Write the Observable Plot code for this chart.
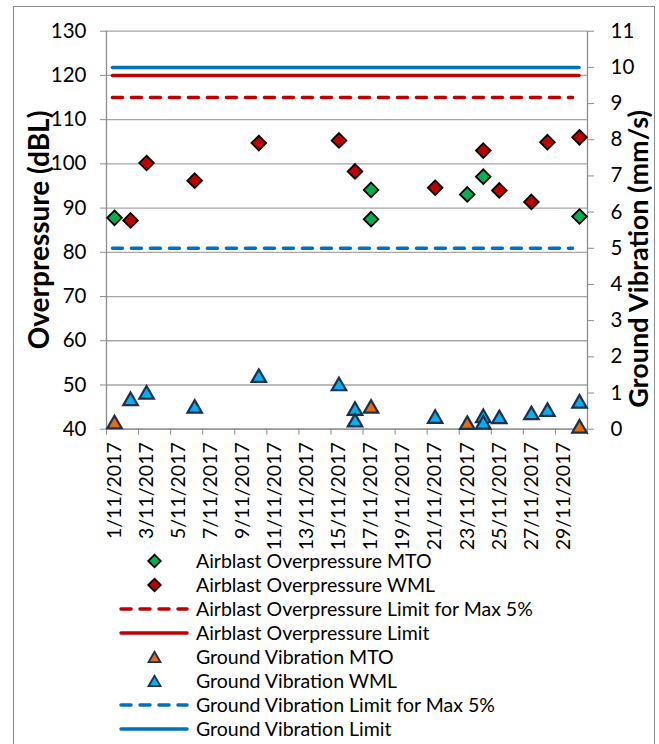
<!DOCTYPE html>
<html><head><meta charset="utf-8">
<script src="https://cdn.jsdelivr.net/npm/d3@7"></script>
<script src="https://cdn.jsdelivr.net/npm/@observablehq/plot@0.6"></script>
<style>
body{margin:0;background:#fff;font-family:Lato,sans-serif;}
#wrap{position:relative;width:659px;height:744px;overflow:hidden;background:#fff;}
#border{position:absolute;left:13px;top:6px;width:642px;height:800px;border:1px solid #8c8c8c;box-sizing:border-box;}
#chart{position:absolute;left:0;top:0;}
#legend{position:absolute;left:0;top:549px;width:659px;}
.row{position:relative;height:24px;}
.row svg{position:absolute;left:117px;top:0;}
.row span{position:absolute;left:196px;top:0;line-height:24px;font-size:19.5px;color:#000;white-space:nowrap;}
.ytitle{position:absolute;transform:translate(-50%,-50%) rotate(-90deg);white-space:nowrap;font-weight:bold;color:#000;line-height:1;}
</style></head>
<body><div id="wrap"><div id="border"></div><div id="chart"></div><div id="legend"></div>
<div class="ytitle" id="ytl" style="left:38px;top:230px;font-size:28px;"></div>
<div class="ytitle" id="ytr" style="left:637px;top:259px;font-size:27px;"></div>
</div>
<script>
// ---- data (day of November 2017) ----
const apMtoDays   = [1, 17, 17, 23, 24, 30];
const apMtoValues = [87.8, 94.1, 87.5, 93.1, 97.1, 88.1];           // dBL
const apWmlDays   = [2, 3, 6, 10, 15, 16, 21, 24, 25, 27, 28, 30];
const apWmlValues = [87.2, 100.2, 96.2, 104.7, 105.3, 98.3, 94.6, 103.0, 94.0, 91.4, 104.9, 106.0];
const gvMtoDays   = [1, 17, 23, 30];
const gvMtoValues = [0.2, 0.63, 0.18, 0.08];                          // mm/s
const gvWmlDays   = [2, 3, 6, 10, 15, 16, 16, 21, 24, 24, 25, 27, 28, 30];
const gvWmlValues = [0.84, 1.02, 0.63, 1.48, 1.25, 0.57, 0.25, 0.35, 0.37, 0.19, 0.34, 0.45, 0.54, 0.77];
const apLimit5 = 115, apLimit = 120;     // dBL
const gvLimit5 = 5, gvLimit = 10;        // mm/s
const limitDays = [1, 30];
const dateTicks  = [1, 3, 5, 7, 9, 11, 13, 15, 17, 19, 21, 23, 25, 27, 29];
const dateLabels = ["1/11/2017","3/11/2017","5/11/2017","7/11/2017","9/11/2017","11/11/2017","13/11/2017","15/11/2017","17/11/2017","19/11/2017","21/11/2017","23/11/2017","25/11/2017","27/11/2017","29/11/2017"];
const dayBoundaries = [0.5, 2.5, 4.5, 6.5, 8.5, 10.5, 12.5, 14.5, 16.5, 18.5, 20.5, 22.5, 24.5, 26.5, 28.5, 30.5];
const apTicks = [40, 50, 60, 70, 80, 90, 100, 110, 120, 130];
const gvTicks = [0, 1, 2, 3, 4, 5, 6, 7, 8, 9, 10, 11];
const leftTitle = "Overpressure (dBL)";
const rightTitle = "Ground Vibration (mm/s)";
const seriesNames = ["Airblast Overpressure MTO","Airblast Overpressure WML","Airblast Overpressure Limit for Max 5%","Airblast Overpressure Limit","Ground Vibration MTO","Ground Vibration WML","Ground Vibration Limit for Max 5%","Ground Vibration Limit"];

// secondary axis (mm/s) mapped onto primary (dBL) range
const apMin = 40, apMax = 130, gvMin = 0, gvMax = 11;
const gvToAp = v => apMin + (v - gvMin) * (apMax - apMin) / (gvMax - gvMin);
const apToGv = a => gvMin + (a - apMin) * (gvMax - gvMin) / (apMax - apMin);

const zip = (d, v) => d.map((x, i) => ({day: x, value: v[i]}));
const apMto = zip(apMtoDays, apMtoValues), apWml = zip(apWmlDays, apWmlValues);
const gvMto = zip(gvMtoDays, gvMtoValues), gvWml = zip(gvWmlDays, gvWmlValues);

const RED = "#C00000", BLUE = "#0070C0", GREEN = "#00B050", ORANGE = "#E46C0A", LBLUE = "#00B0F0", NAVY = "#1B2F4E", AXIS = "#8c8c8c";

const tri = {draw(ctx, size){ const s = Math.sqrt(size); const w = s*0.6, h = s*0.52; ctx.moveTo(0,-h); ctx.lineTo(w,h); ctx.lineTo(-w,h); ctx.closePath(); }};

const H = 562;
const chart = Plot.plot({
  width: 659, height: H,
  marginLeft: 106, marginRight: 72, marginTop: 30.7, marginBottom: H - 428.7,
  x: {domain: [0.5, 30.5]},
  y: {domain: [apMin, apMax]},
  style: {fontFamily: "Lato", fontSize: "20.5px", color: "#000", background: "transparent", overflow: "visible"},
  marks: [
    Plot.gridY(apTicks, {stroke: "#a6a6a6", strokeOpacity: 1, strokeWidth: 1.3}),
    Plot.axisY(apTicks, {anchor: "left", tickSize: 6, tickPadding: 14, stroke: AXIS, label: null}),
    Plot.axisY(gvTicks.map(gvToAp), {anchor: "right", tickSize: 6, tickPadding: 17, stroke: AXIS, label: null,
      tickFormat: d => String(Math.round(apToGv(d)))}),
    Plot.axisX(dayBoundaries, {tickSize: 6, tickFormat: () => "", stroke: AXIS, label: null}),
    Plot.axisX(dateTicks, {tickSize: 0, tickPadding: 13, tickRotate: -90, label: null, fontSize: 19.5,
      tickFormat: d => dateLabels[dateTicks.indexOf(d)]}),
    Plot.ruleX([0.5, 30.5], {stroke: AXIS, strokeWidth: 1.3}),
    Plot.ruleY([apMin], {stroke: AXIS, strokeWidth: 1.3}),
    Plot.dot(apMto, {x: "day", y: "value", symbol: "diamond2", r: 6.6, fill: GREEN, stroke: "#000", strokeWidth: 1.8}),
    Plot.dot(apWml, {x: "day", y: "value", symbol: "diamond2", r: 6.6, fill: RED, stroke: "#000", strokeWidth: 1.8}),
    Plot.ruleY([apLimit5], {x1: limitDays[0] - 0.1, x2: limitDays[1] - 0.4, stroke: RED, strokeWidth: 3.5, strokeDasharray: "10,9", strokeLinecap: "round"}),
    Plot.ruleY([apLimit], {x1: limitDays[0] - 0.1, x2: limitDays[1], stroke: RED, strokeWidth: 3.5, strokeLinecap: "round"}),
    Plot.dot(gvMto, {x: "day", y: d => gvToAp(d.value), symbol: tri, r: 6.8, fill: ORANGE, stroke: NAVY, strokeWidth: 2.2}),
    Plot.dot(gvWml, {x: "day", y: d => gvToAp(d.value), symbol: tri, r: 6.8, fill: LBLUE, stroke: NAVY, strokeWidth: 2.2}),
    Plot.ruleY([gvToAp(gvLimit5)], {x1: limitDays[0] - 0.1, x2: limitDays[1] - 0.4, stroke: BLUE, strokeWidth: 3.5, strokeDasharray: "10,9", strokeLinecap: "round"}),
    Plot.ruleY([gvToAp(gvLimit)], {x1: limitDays[0] - 0.1, x2: limitDays[1], stroke: BLUE, strokeWidth: 3.5, strokeLinecap: "round"})
  ]
});
document.getElementById("chart").appendChild(chart);
document.getElementById("ytl").textContent = leftTitle;
document.getElementById("ytr").textContent = rightTitle;

// ---- legend ----
const legendSpec = [
  {type: "marker", shape: d3.symbolDiamond2, fill: GREEN, stroke: "#000"},
  {type: "marker", shape: d3.symbolDiamond2, fill: RED, stroke: "#000"},
  {type: "line", color: RED, dash: "10,9"},
  {type: "line", color: RED, dash: null},
  {type: "marker", shape: tri, fill: ORANGE, stroke: NAVY},
  {type: "marker", shape: tri, fill: LBLUE, stroke: NAVY},
  {type: "line", color: BLUE, dash: "10,9"},
  {type: "line", color: BLUE, dash: null}
];
const legend = d3.select("#legend");
seriesNames.forEach((name, i) => {
  const s = legendSpec[i];
  const row = legend.append("div").attr("class", "row");
  const svg = row.append("svg").attr("width", 76).attr("height", 24);
  if (s.type === "line") {
    svg.append("line").attr("x1", 4).attr("x2", 70).attr("y1", 12).attr("y2", 12)
      .attr("stroke", s.color).attr("stroke-width", 3.5).attr("stroke-linecap", "round")
      .attr("stroke-dasharray", s.dash);
  } else {
    svg.append("path").attr("transform", "translate(37.5,12)")
      .attr("d", d3.symbol(s.shape, 100)())
      .attr("fill", s.fill).attr("stroke", s.stroke).attr("stroke-width", 1.8);
  }
  row.append("span").text(name);
});
</script>
</body></html>
